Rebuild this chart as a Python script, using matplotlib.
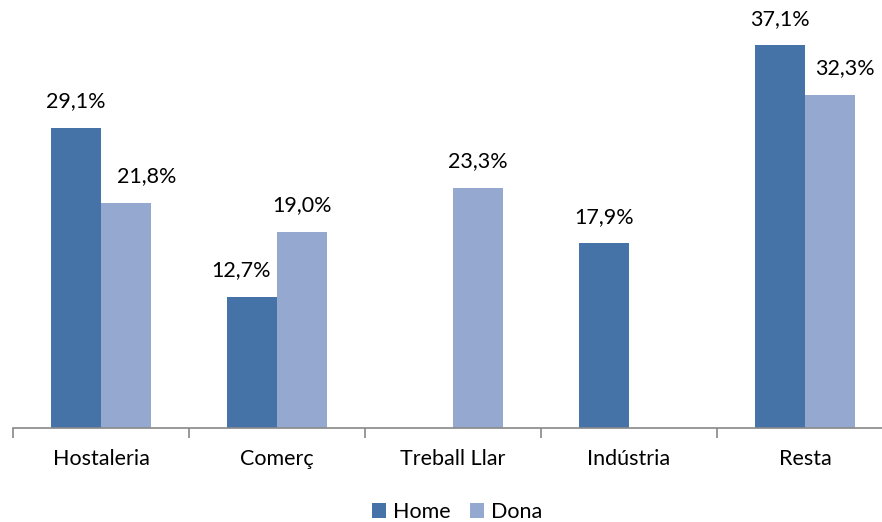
import numpy as np
import matplotlib.pyplot as plt

categories = ["Hostaleria", "Comerç", "Treball Llar", "Indústria", "Resta"]
home = [29.1, 12.7, np.nan, 17.9, 37.1]
dona = [21.8, 19.0, 23.3, np.nan, 32.3]

plt.rcParams['font.family'] = ['Lato', 'DejaVu Sans']

fig = plt.figure(figsize=(8.82, 5.22), dpi=100)
# category width ~176 px; the axis runs slightly past the right edge
ax = fig.add_axes([13 / 882, 94 / 522, 880 / 882, 428 / 522])

x = np.arange(len(categories))
w = 0.284
c_home = "#4572A7"
c_dona = "#95A9D0"
fs = 15.5

ax.bar(x - w / 2, home, w, color=c_home, label="Home")
ax.bar(x + w / 2, dona, w, color=c_dona, label="Dona")

def fmt(v):
    return f"{v:.1f}".replace(".", ",") + "%"

# Excel nudged a few labels sideways so they don't collide (points)
home_nudge = [0, -8, 0, 0, 0]
dona_nudge = [15, 0, 0, 0, 11]

for xi, v, dx in zip(x, home, home_nudge):
    if not np.isnan(v):
        ax.annotate(fmt(v), (xi - w / 2, v), xytext=(dx, 12), textcoords="offset points",
                    ha="center", va="bottom", fontsize=fs)
for xi, v, dx in zip(x, dona, dona_nudge):
    if not np.isnan(v):
        ax.annotate(fmt(v), (xi + w / 2, v), xytext=(dx, 12), textcoords="offset points",
                    ha="center", va="bottom", fontsize=fs)

ax.set_xlim(-0.5, len(categories) - 0.5)
ax.set_ylim(0, 41.5)
ax.set_yticks([])
for s in ["top", "right", "left"]:
    ax.spines[s].set_visible(False)
ax.spines["bottom"].set_color("#888888")
ax.spines["bottom"].set_linewidth(1.2)

ax.set_xticks(np.arange(-0.5, len(categories), 1.0))
ax.set_xticklabels([])
ax.tick_params(axis="x", which="major", length=7, color="#888888", width=1.2)
ax.set_xticks(x, minor=True)
ax.set_xticklabels(categories, minor=True, fontsize=fs)
ax.tick_params(axis="x", which="minor", length=0, pad=15)

ax.legend(loc="center", bbox_to_anchor=(0.505, -0.196), ncol=2, frameon=False,
          fontsize=fs, handlelength=0.65, handleheight=0.65, handletextpad=0.33,
          columnspacing=0.9)

fig.savefig("out.png", dpi=100)
